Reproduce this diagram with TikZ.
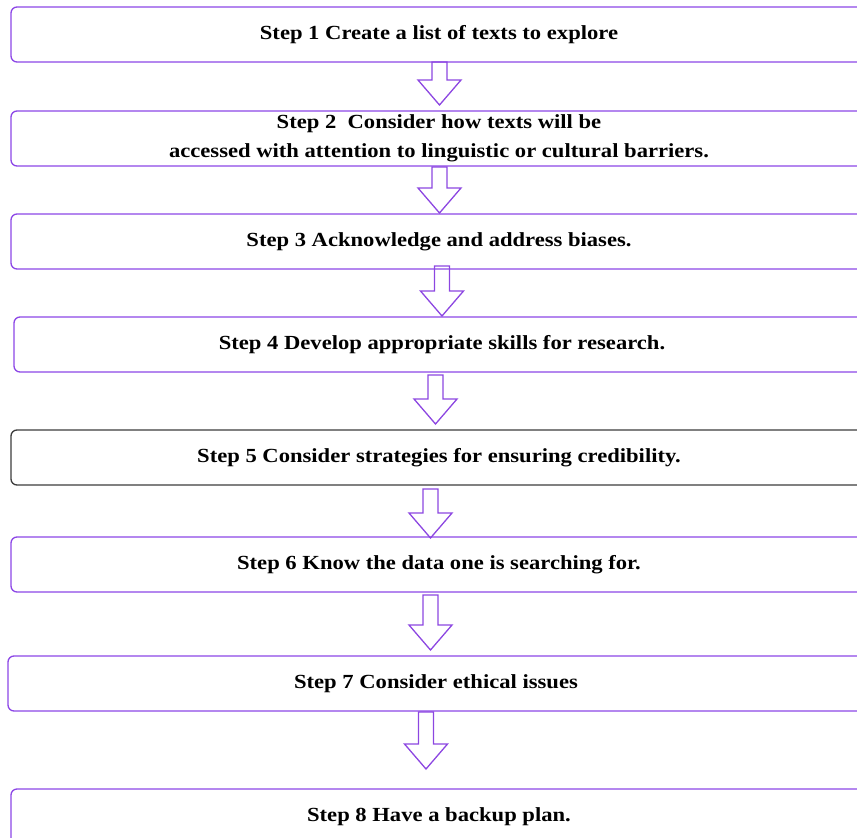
\documentclass[tikz,border=0pt]{standalone}
\usepackage{fontspec}
\setmainfont{Liberation Serif}[FakeStretch=1.13]
\usetikzlibrary{positioning}
\definecolor{stepline}{RGB}{140,70,230}
\definecolor{steparrow}{RGB}{140,70,225}
\definecolor{stepdark}{RGB}{60,60,60}

\begin{document}
\begin{tikzpicture}[x=1pt,y=-1pt,
	    stepbox/.style= {
	        draw=stepline, line width=1.3pt, rounded corners=6pt,
	        anchor=north west, outer sep=0pt, inner sep=0pt,
	        minimum width=856pt, minimum height=55pt, align=center,
	        font=\fontsize{20}{29}\selectfont\bfseries},
	    flowarrow/.pic= {
	        \draw[steparrow, line width=1.3pt]
	            (-7.5,0) -- (7.5,0) -- (7.5,#1) -- (21.5,#1) -- (0,#1+25)
	            -- (-21.5,#1) -- (-7.5,#1) -- cycle;}]

		\useasboundingbox (0,0) rectangle (857,838);
		\clip (0,0) rectangle (857,838);

		% Blocks
		\node [stepbox] (b1) at (11,7) {Step 1 Create a list of texts to explore};
		\node [stepbox] (b2) at (11,111) {Step 2\ \ Consider how texts will be\\accessed with attention to linguistic or cultural barriers.};
		\node [stepbox] (b3) at (11,214) {Step 3 Acknowledge and address biases.};
		\node [stepbox] (b4) at (14,317) {Step 4 Develop appropriate skills for research.};
		\node [stepbox,draw=stepdark] (b5) at (11,430) {Step 5 Consider strategies for ensuring credibility.};
		\node [stepbox] (b6) at (11,537) {Step 6 Know the data one is searching for.};
		\node [stepbox] (b7) at (8,656) {Step 7 Consider ethical issues};
		\node [stepbox] (b8) at (11,789) {Step 8 Have a backup plan.};

		% Arrows
		\pic (a1) at ([xshift=0.5pt]b1.south) {flowarrow=18};
		\pic (a2) at ([xshift=0.5pt,yshift=-1pt]b2.south) {flowarrow=21};
		\pic (a3) at ([xshift=3pt,yshift=3pt]b3.south) {flowarrow=25};
		\pic (a4) at ([xshift=-6.5pt,yshift=-3pt]b4.south) {flowarrow=24};
		\pic (a5) at ([xshift=-8.5pt,yshift=-4pt]b5.south) {flowarrow=24};
		\pic (a6) at ([xshift=-8.5pt,yshift=-3pt]b6.south) {flowarrow=30};
		\pic (a7) at ([xshift=-10pt,yshift=-1pt]b7.south) {flowarrow=32};

	\end{tikzpicture}
\end{document}
